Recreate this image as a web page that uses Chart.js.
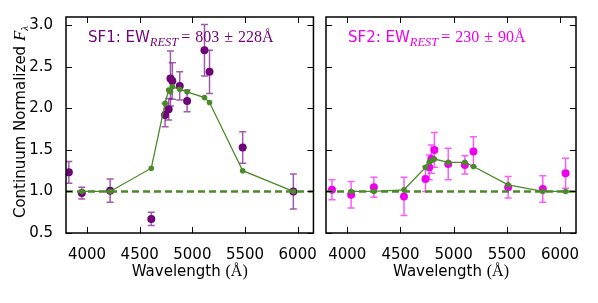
<!DOCTYPE html>
<html>
<head>
<meta charset="utf-8">
<script src="https://cdn.jsdelivr.net/npm/chart.js@4.4.0/dist/chart.umd.min.js"></script>
<style>
  html, body { margin: 0; padding: 0; background: #fff; }
  #wrap { position: relative; width: 598px; height: 303px; overflow: hidden; }
  canvas { position: absolute; top: 0; }
  #sf1 { left: 0; }
  #sf2 { left: 322px; }
</style>
</head>
<body>
<div id="wrap">
  <canvas id="sf1" width="322" height="303"></canvas>
  <canvas id="sf2" width="276" height="303"></canvas>
</div>
<script>
// SF1 measurements (rest wavelength in Angstrom, normalized flux, 1-sigma)
const sf1Wave = [3827, 3950, 4219, 4610, 4741, 4775, 4792, 4810, 4880, 4950, 5115, 5163, 5478, 5959];
const sf1Flux = [1.23, 0.98, 1.01, 0.67, 1.92, 1.99, 2.36, 2.33, 2.27, 2.09, 2.70, 2.44, 1.53, 1.00];
const sf1Err = [0.13, 0.07, 0.14, 0.08, 0.14, 0.13, 0.33, 0.22, 0.17, 0.13, 0.31, 0.26, 0.19, 0.21];
const sf1ModelWave = [3950, 4219, 4610, 4741, 4775, 4792, 4810, 4880, 4950, 5115, 5163, 5478, 5959];
const sf1Model = [1.00, 1.00, 1.28, 2.06, 2.22, 2.20, 2.26, 2.23, 2.20, 2.13, 2.07, 1.25, 1.00];

// SF2 measurements
const sf2Wave = [3856, 4036, 4250, 4533, 4735, 4770, 4790, 4819, 4949, 5105, 5186, 5512, 5838, 6052];
const sf2Flux = [1.02, 0.96, 1.05, 0.94, 1.15, 1.29, 1.39, 1.50, 1.33, 1.32, 1.48, 1.05, 1.03, 1.22];
const sf2Err = [0.12, 0.16, 0.12, 0.23, 0.15, 0.15, 0.17, 0.21, 0.19, 0.11, 0.18, 0.13, 0.16, 0.18];
const sf2ModelWave = [4036, 4250, 4533, 4735, 4770, 4790, 4819, 4949, 5105, 5186, 5512, 5838, 6052];
const sf2Model = [1.00, 1.00, 1.02, 1.29, 1.35, 1.37, 1.39, 1.35, 1.35, 1.30, 1.08, 1.00, 1.00];

const xTicks = [4000, 4500, 5000, 5500, 6000];
const yTicks = [0.5, 1.0, 1.5, 2.0, 2.5, 3.0];
const xRange = [3800, 6150];
const yRange = [0.5, 3.1];
const continuum = 1.0;

const GREEN = '#4a8a28';
const SANS = '"DejaVu Sans", sans-serif';
const SERIF = '"Liberation Serif", "DejaVu Serif", serif';

function toPoints(xs, ys) {
  return xs.map((x, i) => ({ x, y: ys[i] }));
}

// vertical error bars with caps, below the markers
const errorBars = {
  id: 'errorBars',
  beforeDatasetsDraw(chart, args, opts) {
    const { ctx, chartArea: a, scales } = chart;
    ctx.save();
    ctx.beginPath();
    ctx.rect(a.left, a.top, a.right - a.left, a.bottom - a.top);
    ctx.clip();
    ctx.strokeStyle = opts.color;
    ctx.lineWidth = 1.5;
    opts.wave.forEach((w, i) => {
      const x = scales.x.getPixelForValue(w);
      const lo = scales.y.getPixelForValue(opts.flux[i] - opts.err[i]);
      const hi = scales.y.getPixelForValue(opts.flux[i] + opts.err[i]);
      ctx.beginPath();
      ctx.moveTo(x, lo); ctx.lineTo(x, hi);
      ctx.moveTo(x - 3.5, lo); ctx.lineTo(x + 3.5, lo);
      ctx.moveTo(x - 3.5, hi); ctx.lineTo(x + 3.5, hi);
      ctx.stroke();
    });
    ctx.restore();
  }
};

// matplotlib-like box with inward ticks on every side
const frame = {
  id: 'frame',
  afterDatasetsDraw(chart) {
    const { ctx, chartArea: a, scales } = chart;
    ctx.save();
    ctx.strokeStyle = '#000';
    ctx.lineWidth = 1;
    ctx.beginPath();
    scales.x.ticks.forEach(t => {
      const x = Math.round(scales.x.getPixelForValue(t.value)) + 0.5;
      ctx.moveTo(x, a.bottom); ctx.lineTo(x, a.bottom - 6);
      ctx.moveTo(x, a.top); ctx.lineTo(x, a.top + 6);
    });
    scales.y.ticks.forEach(t => {
      const y = Math.round(scales.y.getPixelForValue(t.value)) + 0.5;
      ctx.moveTo(a.left, y); ctx.lineTo(a.left + 6, y);
      ctx.moveTo(a.right, y); ctx.lineTo(a.right - 6, y);
    });
    ctx.stroke();
    ctx.lineWidth = 1.5;
    ctx.strokeRect(a.left, a.top, a.right - a.left, a.bottom - a.top);
    ctx.restore();
  }
};

function drawRun(ctx, x, y, parts) {
  parts.forEach(p => {
    ctx.font = p.font;
    x += p.gap || 0;
    ctx.fillText(p.text, x, y + (p.dy || 0));
    x += ctx.measureText(p.text).width;
  });
  return x;
}

function runWidth(ctx, parts) {
  let w = 0;
  parts.forEach(p => {
    ctx.font = p.font;
    w += (p.gap || 0) + ctx.measureText(p.text).width;
  });
  return w;
}

// axis titles and the EW annotation
const texts = {
  id: 'texts',
  afterDraw(chart, args, opts) {
    const { ctx, chartArea: a } = chart;
    ctx.save();
    ctx.textBaseline = 'alphabetic';
    ctx.textAlign = 'left';

    const xTitle = [
      { text: 'Wavelength ', font: '15px ' + SANS },
      { text: '(Å)', font: '16px ' + SERIF }
    ];
    ctx.fillStyle = '#000';
    const w = runWidth(ctx, xTitle);
    drawRun(ctx, (a.left + a.right) / 2 - w / 2, 276, xTitle);

    if (opts.yTitle) {
      const yTitle = [
        { text: 'Continuum Normalized ', font: '15px ' + SANS },
        { text: 'F', font: 'italic 17px ' + SERIF },
        { text: 'λ', font: 'italic 11px ' + SERIF, dy: 3 }
      ];
      ctx.save();
      ctx.translate(25, (a.top + a.bottom) / 2 - 3);
      ctx.rotate(-Math.PI / 2);
      const yw = runWidth(ctx, yTitle);
      drawRun(ctx, -yw / 2, 0, yTitle);
      ctx.restore();
    }

    ctx.fillStyle = opts.color;
    drawRun(ctx, a.left + opts.noteX, a.top + 25, [
      { text: opts.name + ': EW', font: '15px ' + SANS },
      { text: 'REST', font: 'italic 12.5px ' + SERIF, dy: 4 },
      { text: '=', font: '16px ' + SERIF, gap: 3 },
      { text: opts.ew, font: '16px ' + SERIF, gap: 5 },
      { text: '±', font: '16px ' + SERIF, gap: 5 },
      { text: opts.ewErr + 'Å', font: '16px ' + SERIF, gap: 5 }
    ]);
    ctx.restore();
  }
};

function makePanel(id, p) {
  const ctx = document.getElementById(id).getContext('2d');
  return new Chart(ctx, {
    type: 'scatter',
    data: {
      datasets: [
        {
          data: toPoints(xRange, [continuum, continuum]),
          showLine: true,
          borderColor: GREEN,
          borderWidth: 2.5,
          borderDash: [7, 4],
          pointRadius: 0,
          order: 0,
        },
        {
          data: toPoints(p.modelWave, p.model),
          showLine: true,
          borderColor: GREEN,
          borderWidth: 1.3,
          pointRadius: 2.8,
          pointBackgroundColor: GREEN,
          pointBorderWidth: 0,
          order: 1,
        },
        {
          data: toPoints(p.wave, p.flux),
          pointRadius: 4,
          pointBackgroundColor: p.color,
          pointBorderWidth: 0,
          clip: 0,
          order: 2,
        },
      ],
    },
    options: {
      responsive: false,
      animation: false,
      events: [],
      devicePixelRatio: 1,
      layout: { padding: p.padding },
      plugins: {
        legend: { display: false },
        tooltip: { enabled: false },
        errorBars: { wave: p.wave, flux: p.flux, err: p.err, color: p.errColor },
        texts: { yTitle: p.yTitle, color: p.color, name: p.name, ew: p.ew, ewErr: p.ewErr, noteX: p.noteX },
      },
      scales: {
        x: {
          type: 'linear',
          min: xRange[0],
          max: xRange[1],
          grid: { display: false },
          border: { display: false },
          afterBuildTicks: s => { s.ticks = xTicks.map(v => ({ value: v })); },
          afterFit: s => { s.height = 70; },
          ticks: {
            color: '#000',
            font: { family: SANS, size: 15 },
            padding: 5,
            maxRotation: 0,
            autoSkip: false,
            callback: v => String(v),
          },
        },
        y: {
          type: 'linear',
          min: yRange[0],
          max: yRange[1],
          grid: { display: false },
          border: { display: false },
          afterBuildTicks: s => { s.ticks = yTicks.map(v => ({ value: v })); },
          afterFit: s => { s.width = p.yWidth; },
          ticks: {
            display: p.yTitle,
            color: '#000',
            font: { family: SANS, size: 15 },
            padding: 5,
            callback: v => v.toFixed(1),
          },
        },
      },
    },
    plugins: [errorBars, frame, texts],
  });
}

makePanel('sf1', {
  wave: sf1Wave, flux: sf1Flux, err: sf1Err,
  modelWave: sf1ModelWave, model: sf1Model,
  color: '#700578', errColor: 'rgba(120, 20, 135, 0.7)',
  name: 'SF1', ew: '803', ewErr: '228', noteX: 22,
  yTitle: true, yWidth: 66,
  padding: { left: 0, right: 4, top: 17, bottom: 0 },
});

makePanel('sf2', {
  wave: sf2Wave, flux: sf2Flux, err: sf2Err,
  modelWave: sf2ModelWave, model: sf2Model,
  color: '#ee00ee', errColor: 'rgba(245, 40, 245, 0.75)',
  name: 'SF2', ew: '230', ewErr: '90', noteX: 22,
  yTitle: false, yWidth: 0,
  padding: { left: 2, right: 22, top: 17, bottom: 0 },
});
</script>
</body>
</html>
